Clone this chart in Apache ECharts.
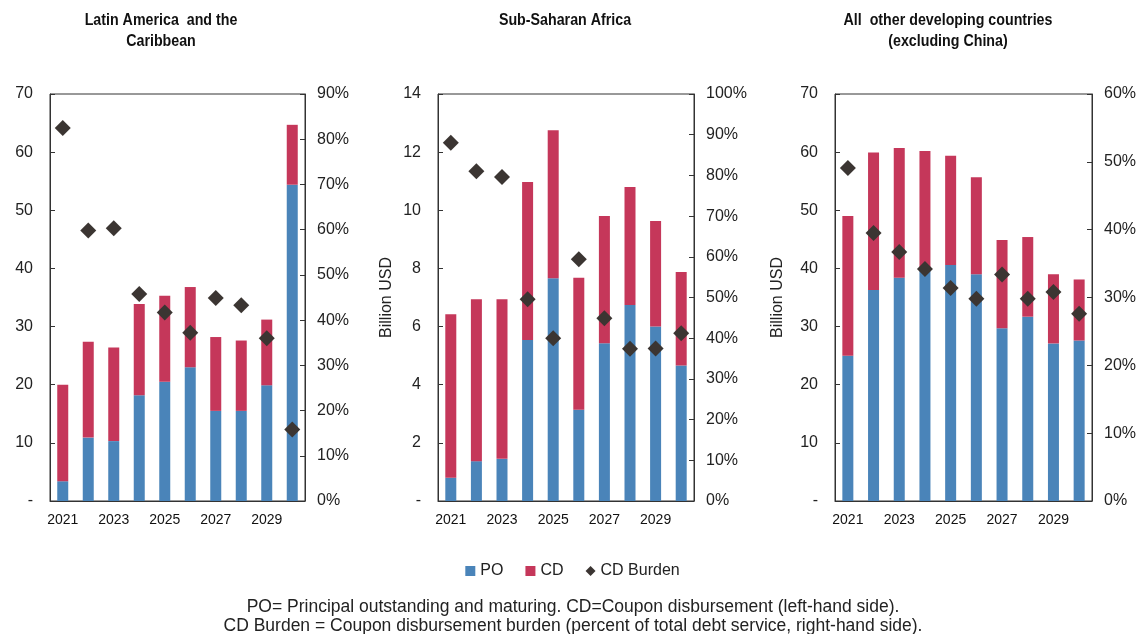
<!DOCTYPE html>
<html>
<head>
<meta charset="utf-8">
<script src="https://cdn.jsdelivr.net/npm/echarts@6/dist/echarts.min.js"></script>
<style>
  html, body { margin: 0; padding: 0; background: #fff; }
  #chart { width: 1145px; height: 634px; }
</style>
</head>
<body>
<div id="chart"></div>
<script>
const years = ['2021', '2022', '2023', '2024', '2025', '2026', '2027', '2028', '2029', '2030'];

// Latin America and the Caribbean
const latamPO = [3.4, 10.9, 10.3, 18.2, 20.5, 23.0, 15.5, 15.5, 19.9, 54.4];
const latamCD = [16.6, 16.5, 16.1, 15.7, 14.8, 13.8, 12.7, 12.1, 11.3, 10.3];
const latamBurden = [82.5, 59.8, 60.3, 45.8, 41.7, 37.2, 44.9, 43.3, 36.0, 15.8];

// Sub-Saharan Africa
const ssaPO = [0.8, 1.37, 1.45, 5.54, 7.66, 3.14, 5.43, 6.74, 6.0, 4.66];
const ssaCD = [5.62, 5.57, 5.49, 5.43, 5.09, 4.54, 4.37, 4.06, 3.63, 3.22];
const ssaBurden = [88.0, 81.0, 79.6, 49.6, 40.0, 59.4, 44.9, 37.4, 37.5, 41.2];

// All other developing countries (excluding China)
const otherPO = [25.0, 36.3, 38.4, 39.9, 40.6, 39.0, 29.7, 31.7, 27.1, 27.6];
const otherCD = [24.0, 23.65, 22.3, 20.3, 18.8, 16.7, 15.2, 13.7, 11.9, 10.5];
const otherBurden = [49.1, 39.5, 36.7, 34.2, 31.4, 29.8, 33.4, 29.8, 30.8, 27.6];

const titles = ['Latin America  and the\nCaribbean', 'Sub-Saharan Africa', 'All  other developing countries\n(excluding China)'];
const leftMax = [70, 14, 70];
const leftStep = [10, 2, 10];
const rightMax = [90, 100, 60];
const footnote = 'PO= Principal outstanding and maturing. CD=Coupon disbursement (left-hand side).\nCD Burden = Coupon disbursement burden (percent of total debt service, right-hand side).';

const panels = [
  { po: latamPO, cd: latamCD, burden: latamBurden },
  { po: ssaPO, cd: ssaCD, burden: ssaBurden },
  { po: otherPO, cd: otherCD, burden: otherBurden },
];

const blue = '#4a84b9';
const red = '#c5375a';
const dark = '#3b3532';
const sans = '"Liberation Sans", Arial, sans-serif';

const grids = [
  { left: 50, top: 94, width: 255, height: 407 },
  { left: 438, top: 94, width: 256, height: 407 },
  { left: 835, top: 94, width: 257, height: 407 },
];
const titleX = [161, 565, 948];
const nameGaps = [40, 43, 49];

const chart = echarts.init(document.getElementById('chart'));

const xAxis = [];
const yAxis = [];
const series = [];

panels.forEach((p, i) => {
  xAxis.push({
    type: 'category',
    gridIndex: i,
    data: years,
    axisLine: { lineStyle: { color: '#333', width: 1 } },
    axisTick: { inside: true, length: 5, interval: 0, lineStyle: { color: '#333' } },
    axisLabel: { interval: 1, color: '#111', fontSize: 14, fontFamily: sans, margin: 12 },
  });
  yAxis.push({
    type: 'value',
    gridIndex: i,
    min: 0,
    max: leftMax[i],
    interval: leftStep[i],
    name: i > 0 ? 'Billion USD' : '',
    nameLocation: 'middle',
    nameGap: nameGaps[i],
    nameTextStyle: { color: '#222', fontSize: 16, fontFamily: sans },
    axisLine: { show: true, lineStyle: { color: '#333' } },
    axisTick: { show: true, inside: true, length: 5, lineStyle: { color: '#333' } },
    axisLabel: { color: '#222', fontSize: 16, fontFamily: sans, margin: 17, formatter: v => v === 0 ? '-' : v },
    splitLine: { show: false },
  });
  yAxis.push({
    type: 'value',
    gridIndex: i,
    position: 'right',
    min: 0,
    max: rightMax[i],
    interval: 10,
    axisLine: { show: true, lineStyle: { color: '#333' } },
    axisTick: { show: true, inside: true, length: 5, lineStyle: { color: '#333' } },
    axisLabel: { color: '#222', fontSize: 16, fontFamily: sans, margin: 12, formatter: v => v + '%' },
    splitLine: { show: false },
  });
  series.push({
    name: 'PO',
    type: 'bar',
    xAxisIndex: i,
    yAxisIndex: i * 2,
    stack: 'g' + i,
    barWidth: 11,
    data: p.po,
    itemStyle: { color: blue },
  });
  series.push({
    name: 'CD',
    type: 'bar',
    xAxisIndex: i,
    yAxisIndex: i * 2,
    stack: 'g' + i,
    barWidth: 11,
    data: p.cd,
    itemStyle: { color: red },
  });
  series.push({
    name: 'CD Burden',
    type: 'scatter',
    xAxisIndex: i,
    yAxisIndex: i * 2 + 1,
    symbol: 'diamond',
    symbolSize: 16,
    data: p.burden,
    itemStyle: { color: dark, opacity: 1 },
    z: 5,
  });
});

// titles drawn as graphic text so they can be squeezed like the condensed original
const graphic = titles.map((t, i) => ({
  type: 'text',
  x: titleX[i],
  y: 10,
  scaleX: 0.89,
  style: {
    text: t,
    fill: '#111',
    font: 'bold 16px ' + sans,
    textAlign: 'center',
    lineHeight: 21,
  },
}));
graphic.push({
  type: 'text',
  x: 573,
  y: 598,
  style: {
    text: footnote,
    fill: '#222',
    font: '17.5px ' + sans,
    textAlign: 'center',
    lineHeight: 19,
  },
});

chart.setOption({
  animation: false,
  legend: {
    top: 558,
    left: 'center',
    itemWidth: 10,
    itemHeight: 10,
    itemGap: 22,
    textStyle: { fontSize: 16, color: '#222', fontFamily: sans },
    data: [
      { name: 'PO', icon: 'rect' },
      { name: 'CD', icon: 'rect' },
      { name: 'CD Burden', icon: 'diamond' },
    ],
  },
  grid: grids.map(g => Object.assign({ show: true, borderColor: '#333', borderWidth: 1 }, g)),
  xAxis,
  yAxis,
  series,
  graphic,
});

window.addEventListener('resize', () => chart.resize());
</script>
</body>
</html>
